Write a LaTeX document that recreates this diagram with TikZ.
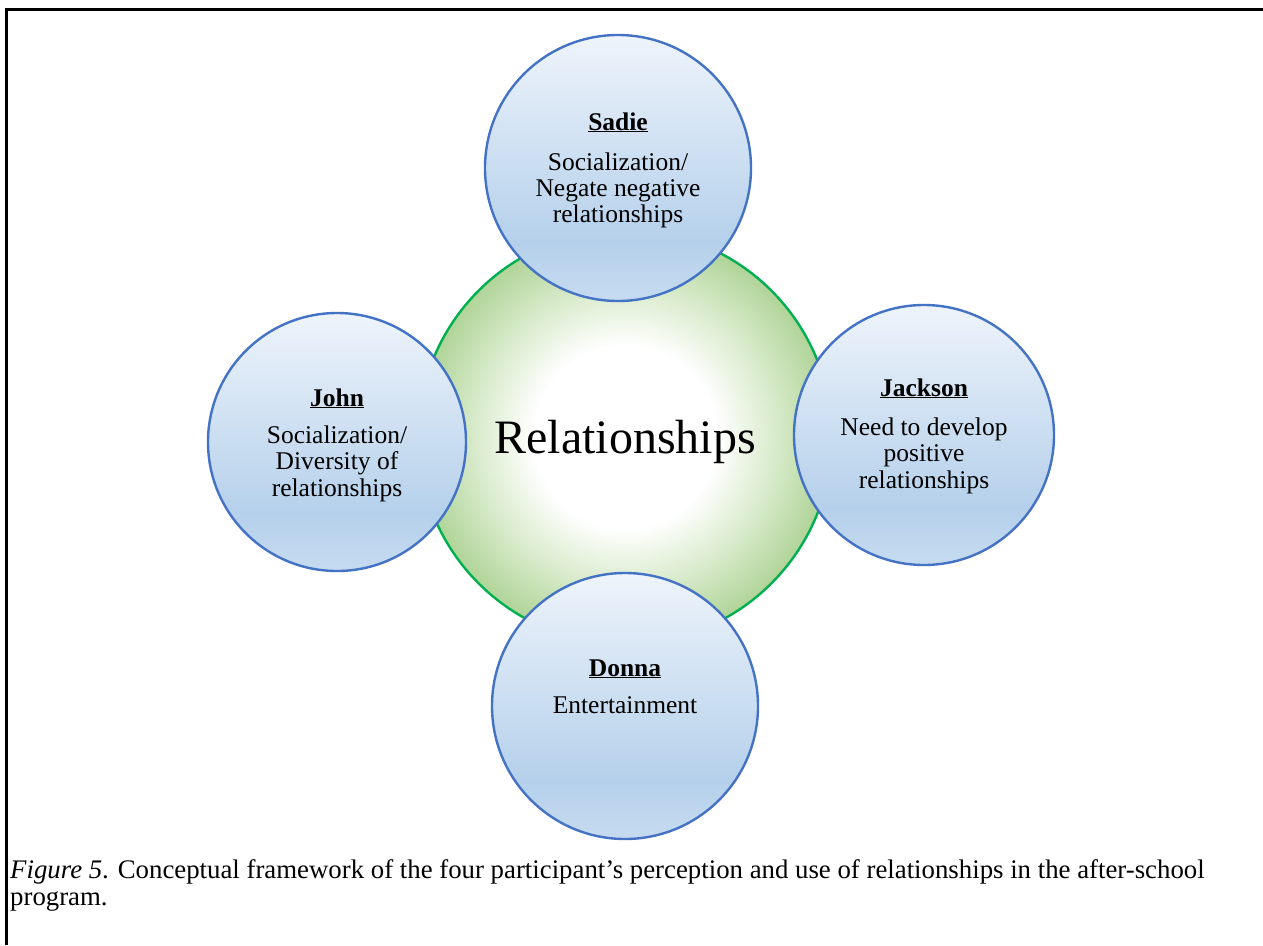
\documentclass[tikz,border=0pt]{standalone}
\usepackage{fontspec}
\setmainfont{Liberation Serif}
\usetikzlibrary{shapes.geometric}
\definecolor{bborder}{HTML}{4472C4}
\definecolor{gborder}{HTML}{00B050}
\definecolor{btop}{HTML}{EEF4FB}
\definecolor{bmid}{HTML}{B5D0EB}
\definecolor{bbot}{HTML}{C6DBF0}
\definecolor{gedge}{HTML}{B0D498}
\definecolor{gmid}{HTML}{D9EBCC}
\pgfdeclareverticalshading{bluegrad}{100bp}{color(0bp)=(bbot); color(25bp)=(bbot); color(36bp)=(bmid); color(75bp)=(btop); color(100bp)=(btop)}
\pgfdeclareradialshading{greengrad}{\pgfpoint{0bp}{0bp}}{color(0bp)=(white); color(11bp)=(white); color(18bp)=(gmid); color(25bp)=(gedge); color(50bp)=(gedge)}
\tikzset{
  bubble/.style={circle, draw=bborder, line width=2.4pt, shading=bluegrad, inner sep=0pt},
  hub/.style={circle, draw=gborder, line width=2.4pt, shading=greengrad, inner sep=0pt},
  nametxt/.style={anchor=base, inner sep=0pt, font=\fontsize{25.5}{26}\selectfont\bfseries},
  bodytxt/.style={anchor=base, inner sep=0pt, font=\fontsize{25.5}{26}\selectfont},
  captxt/.style={anchor=base west, inner sep=0pt, font=\fontsize{26.8}{27}\selectfont},
  frameline/.style={line width=3pt, black}
}
\begin{document}
\begin{tikzpicture}[x=1pt,y=-1pt]
\useasboundingbox (0,0) rectangle (1263,945);
\fill[white] (0,0) rectangle (1263,945);
% frame
\coordinate (fbl) at (6.5,945);
\coordinate (ftl) at (6.5,9.5);
\coordinate (ftr) at (1263,9.5);
\draw[frameline] (fbl) -- (ftl) -- (ftr);
% hub
\node[hub, minimum size=414pt] (hub) at (625,437) {};
\node[anchor=base, inner sep=0pt, font=\fontsize{48}{50}\selectfont] (hubT) at (625,453) {Relationships};
% bubbles
\node[bubble, minimum size=266pt] (sadie) at (618,168) {};
\node[bubble, minimum size=258pt] (john) at (337,442) {};
\node[bubble, minimum size=260pt] (jackson) at (924,435) {};
\node[bubble, minimum size=266pt] (donna) at (625,706) {};
% texts
\node[nametxt] (sadieN) at (618,130) {\underline{Sadie}};
\node[bodytxt] (sadie1) at (618,170) {Socialization/};
\node[bodytxt] (sadie2) at (618,196) {Negate negative};
\node[bodytxt] (sadie3) at (618,222) {relationships};
\node[nametxt] (johnN) at (337,406) {\underline{John}};
\node[bodytxt] (john1) at (337,443) {Socialization/};
\node[bodytxt] (john2) at (337,469) {Diversity of};
\node[bodytxt] (john3) at (337,496) {relationships};
\node[nametxt] (jacksonN) at (924,396) {\underline{Jackson}};
\node[bodytxt] (jackson1) at (924,435) {Need to develop};
\node[bodytxt] (jackson2) at (924,461) {positive};
\node[bodytxt] (jackson3) at (924,488) {relationships};
\node[nametxt] (donnaN) at (625,676) {\underline{Donna}};
\node[bodytxt] (donna1) at (625,713) {Entertainment};
% caption
\node[captxt] (cap1) at (10,878) {\textit{Figure 5}. Conceptual framework of the four participant’s perception and use of relationships in the after-school};
\node[captxt] (cap2) at (10,905) {program.};
\end{tikzpicture}
\end{document}
